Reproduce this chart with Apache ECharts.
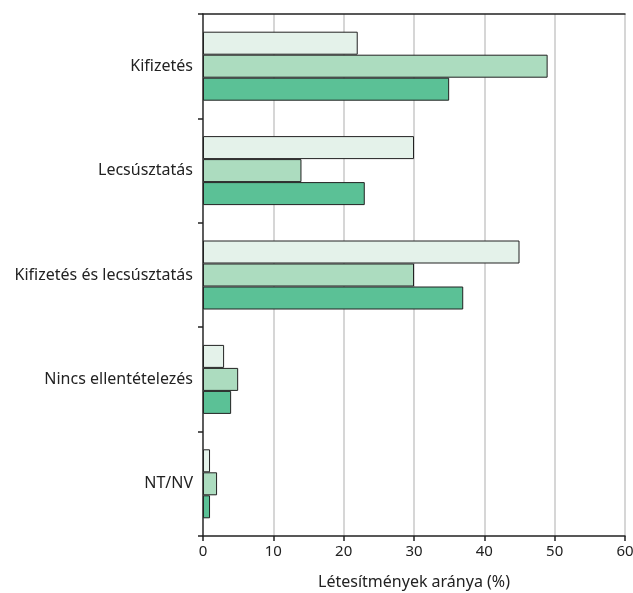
<!DOCTYPE html>
<html><head><meta charset="utf-8">
<script src="https://cdn.jsdelivr.net/npm/echarts@6/dist/echarts.min.js"></script>
<style>html,body{margin:0;padding:0;background:#fff}#c{width:633px;height:593px}</style>
</head><body><div id="c"></div>
<script>
const categories = ['Kifizetés', 'Lecsúsztatás', 'Kifizetés és lecsúsztatás', 'Nincs ellentételezés', 'NT/NV'];
const series1 = [22, 30, 45, 3, 1];
const series2 = [49, 14, 30, 5, 2];
const series3 = [35, 23, 37, 4, 1];
const xTicks = [0, 10, 20, 30, 40, 50, 60];
const colors = ['#e4f2ea', '#acdcbf', '#5bc196'];
const font = 'Noto Sans';
const chart = echarts.init(document.getElementById('c'), null, {renderer: 'canvas'});
const mk = (d, i) => ({
  type: 'bar', data: d, barWidth: 23, barGap: '0%',
  itemStyle: {color: colors[i], borderColor: '#222', borderWidth: 1},
  silent: true
});
chart.setOption({
  animation: false,
  grid: {left: 203, right: 8, top: 14, bottom: 57, containLabel: false, outerBoundsMode: 'none'},
  xAxis: [{
    type: 'value', min: 0, max: 60, interval: 10, position: 'bottom',
    axisLine: {show: true, lineStyle: {color: '#222', width: 1.5}},
    axisTick: {show: true, length: 5, lineStyle: {color: '#222', width: 1.5}},
    axisLabel: {color: '#222', fontFamily: font, fontSize: 15, margin: 8,
      formatter: v => xTicks.includes(v) ? String(v) : ''},
    splitLine: {show: true, lineStyle: {color: '#c8c8c8', width: 1.5}},
    name: 'Létesítmények aránya (%)', nameLocation: 'middle', nameGap: 38,
    nameTextStyle: {color: '#222', fontFamily: font, fontSize: 16}
  }, {
    type: 'value', min: 0, max: 60, interval: 10, position: 'top',
    axisLine: {show: true, lineStyle: {color: '#222', width: 1.5}},
    axisTick: {show: false}, axisLabel: {show: false}, splitLine: {show: false}
  }],
  yAxis: {
    type: 'category', data: categories, inverse: true,
    axisLine: {show: true, lineStyle: {color: '#333', width: 1.5}},
    axisTick: {show: true, length: 5, alignWithLabel: false, lineStyle: {color: '#222', width: 1.5}},
    axisLabel: {color: '#222', fontFamily: font, fontSize: 16, margin: 10},
    splitLine: {show: false}
  },
  series: [mk(series1, 0), mk(series2, 1), mk(series3, 2)]
});
</script></body></html>
